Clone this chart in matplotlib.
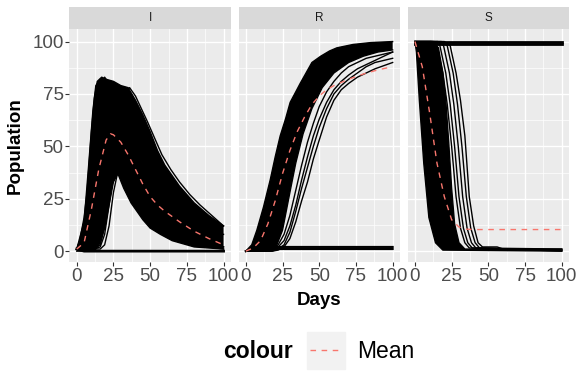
import numpy as np
import matplotlib
matplotlib.use("Agg")
from matplotlib import pyplot as plt
from matplotlib.lines import Line2D
from matplotlib.patches import Rectangle

plt.rcParams['font.family'] = ['Liberation Sans', 'DejaVu Sans']

# ---- data (Population vs Days) ----
panels = ["I", "R", "S"]
x_ticks = [0, 25, 50, 75, 100]
y_ticks = [0, 25, 50, 75, 100]

# I compartment
I_mean_days = [0, 5, 10, 15, 20, 23, 25, 30, 35, 40, 45, 50, 55, 60, 70, 80, 90, 100]
I_mean = [1, 4, 20, 39, 53, 56, 55.5, 52, 46, 39, 32, 26, 22, 19, 14, 9.5, 6, 3]
I_up_days = [0, 2, 5, 7, 10, 12, 14, 17, 20, 25, 30, 35, 40, 45, 50, 55, 60, 70, 80, 90, 100]
I_up = [1, 5, 16, 28, 57, 73, 81, 83, 82, 81, 79, 78, 72, 65, 57, 48, 41, 31, 23, 17, 12]
I_lo_days = [0, 10, 13, 16, 19, 22, 25, 28, 32, 37, 45, 50, 57, 65, 80, 90, 100]
I_lo = [0, 0, 1, 4, 11, 22, 33, 37, 30, 23, 15, 11, 8, 5, 2, 1.5, 1]
I_edge_days = [0, 5, 8, 11, 13, 16, 19, 22, 25, 29, 33, 36, 40, 44, 48, 53, 58, 64, 70, 77, 84, 92, 100]
I_edge_a = [1, 14, 40, 67, 79, 82, 80, 81, 79, 78, 76, 78, 74, 68, 62, 54, 46, 39, 33, 27, 22, 17, 12]
I_edge_b = [1, 10, 30, 58, 72, 80, 83, 80, 76, 71, 66, 60, 54, 48, 42, 36, 30, 24, 20, 15, 12, 9, 8]
I_late_days = [0, 12, 16, 19, 22, 25, 28, 31, 35, 40, 45, 50, 60, 70, 80, 90, 100]
I_late_a = [1, 1, 2, 8, 22, 36, 40, 36, 30, 25, 20, 16, 10, 7, 4, 3, 2]
I_late_b = [1, 1, 1, 3, 12, 28, 38, 42, 36, 28, 22, 17, 11, 7, 5, 3, 2]
I_late_c = [1, 1, 3, 12, 28, 42, 46, 41, 33, 26, 20, 15, 9, 6, 4, 2, 1]
I_fail_days = [0, 5, 100]
I_fail = [1, 0, 0]

# R compartment
R_mean_days = [0, 5, 10, 15, 20, 25, 30, 35, 40, 45, 50, 55, 60, 70, 80, 90, 100]
R_mean = [0, 1.5, 5, 13, 24, 37, 48, 57, 64, 70, 74, 77, 79, 82, 84.5, 86.5, 88]
R_up_days = [0, 4, 7.5, 12, 16.6, 20, 23.4, 27, 30.2, 34, 37, 41, 45, 51, 57, 62, 73, 85, 100]
R_up = [0, 3, 10, 21, 34, 45, 55, 63, 71, 76, 80, 85, 90, 93, 95.5, 97, 98.6, 99.5, 100]
R_lo_days = [0, 17, 20, 25, 30, 34, 39, 45, 52, 60, 70, 80, 90, 100]
R_lo = [0, 0, 1, 10, 28, 42, 56, 68, 78, 85, 90, 93, 95, 96]
R_out_days = [0, 18, 22, 26, 30, 34, 38, 42, 46, 50, 55, 60, 65, 70, 76, 82, 88, 94, 100]
R_out_a = [0, 0, 0.5, 2, 6, 14, 24, 33, 44, 53, 64, 72, 77, 80, 83, 85, 87, 88.5, 90]
R_out_b = [0, 0, 1, 3, 9, 19, 30, 40, 50, 59, 68, 75, 79, 82, 85, 88, 90, 91, 92]
R_out_c = [0, 0.5, 2, 5, 12, 22, 34, 45, 55, 63, 71, 77, 81, 84, 87, 89, 91, 93, 95]
R_out_d = [0, 1, 3, 8, 17, 29, 41, 52, 61, 69, 76, 81, 85, 88, 90, 92, 93, 94, 95]
R_fail_days = [0, 6, 100]
R_fail_1 = [0, 1, 1]
R_fail_2 = [0, 2, 2]

# S compartment
S_mean_days = [0, 5, 10, 15, 20, 25, 30, 35, 40, 100]
S_mean = [100, 88, 66, 42, 26, 15, 11.5, 10.5, 10.3, 10.3]
S_left_days = [0, 1, 3, 6, 9.5, 14, 19, 100]
S_left = [100, 95, 72, 42, 16, 4, 0.5, 0]
S_right_days = [0, 12, 16, 19, 21, 23, 25, 27, 30, 34, 100]
S_right = [100, 100, 97, 85, 72, 52, 30, 13, 4, 1, 0.5]
S_late_a_days = [0, 11, 15, 19, 22, 25, 28, 31, 34, 37, 100]
S_late_a = [100, 100, 98, 85, 70, 50, 26, 11, 4, 1.5, 0.5]
S_late_b_days = [0, 13, 17, 21, 24, 27, 30, 33, 36, 39, 100]
S_late_b = [100, 100, 98, 85, 70, 50, 26, 11, 4, 1.5, 0.5]
S_late_c_days = [0, 15.5, 19.5, 23.5, 26.5, 29.5, 32.5, 35.5, 38.5, 41.5, 100]
S_late_c = [100, 100, 98, 85, 70, 50, 26, 11, 4, 1.5, 1]
S_late_d_days = [0, 18, 22, 26, 29, 32, 35, 38, 41, 44, 100]
S_late_d = [100, 100, 98, 85, 70, 50, 26, 11, 4, 1.5, 0]
S_late_e_days = [0, 20, 24, 28, 31, 34, 37, 40, 43, 46, 56, 60, 100]
S_late_e = [100, 100, 98, 85, 72, 55, 26, 12, 4, 2, 2, 1, 1]
S_fail_days = [0, 100]
S_fail_1 = [100, 100]
S_fail_2 = [99, 99]

mean_col = "#F8766D"
lw = 1.0

fig = plt.figure(figsize=(5.76, 3.84), dpi=100)
W, H = 576.0, 384.0
lefts = [69.4, 238.5, 407.6]
pw, pb, ph = 161.5, 122.3, 232.4

axes = []
for k, name in enumerate(panels):
    ax = fig.add_axes([lefts[k] / W, pb / H, pw / W, ph / H])
    ax.set_facecolor("#EBEBEB")
    for s in ax.spines.values():
        s.set_visible(False)
    ax.set_xlim(-5, 105)
    ax.set_ylim(-5.04, 105.84)
    ax.set_xticks(x_ticks)
    ax.set_yticks(y_ticks)
    ax.set_xticks([12.5, 37.5, 62.5, 87.5], minor=True)
    ax.set_yticks([12.5, 37.5, 62.5, 87.5], minor=True)
    ax.grid(which="major", color="white", lw=1.0)
    ax.grid(which="minor", color="white", lw=0.5)
    ax.set_axisbelow(True)
    ax.tick_params(which="minor", length=0)
    ax.tick_params(which="major", length=2.7, width=0.8, color="#333333",
                   labelsize=13.5, labelcolor="#4D4D4D", pad=1.5)
    if k > 0:
        ax.tick_params(axis="y", left=False, labelleft=False)
    # strip
    st = fig.add_axes([lefts[k] / W, 354.7 / H, pw / W, 22 / H])
    st.set_facecolor("#D9D9D9")
    st.set_xticks([])
    st.set_yticks([])
    for s in st.spines.values():
        s.set_visible(False)
    st.text(0.5, 0.5, name, ha="center", va="center", fontsize=8.5, color="#1A1A1A",
            transform=st.transAxes)
    axes.append(ax)


def band(ax, xu, yu, xl, yl):
    ax.fill(list(xu) + list(xl)[::-1], list(yu) + list(yl)[::-1], color="black", lw=0)
    ax.plot(xu, yu, color="black", lw=lw)
    ax.plot(xl, yl, color="black", lw=lw)


ax = axes[0]
band(ax, I_up_days, I_up, I_lo_days, I_lo)
for ys in (I_edge_a, I_edge_b):
    ax.plot(I_edge_days, ys, color="black", lw=lw)
for ys in (I_late_a, I_late_b, I_late_c):
    ax.plot(I_late_days, ys, color="black", lw=lw)
ax.plot(I_fail_days, I_fail, color="black", lw=2.0)
ax.plot(I_mean_days, I_mean, color=mean_col, lw=lw, dashes=(4, 4))

ax = axes[1]
band(ax, R_up_days, R_up, R_lo_days, R_lo)
for ys in (R_out_a, R_out_b, R_out_c, R_out_d):
    ax.plot(R_out_days, ys, color="black", lw=lw)
ax.plot(R_fail_days, R_fail_1, color="black", lw=1.5)
ax.plot(R_fail_days, R_fail_2, color="black", lw=1.5)
ax.plot(R_mean_days, R_mean, color=mean_col, lw=lw, dashes=(4, 4))

ax = axes[2]
band(ax, S_left_days, S_left, S_right_days, S_right)
for xs, ys in ((S_late_a_days, S_late_a), (S_late_b_days, S_late_b),
               (S_late_c_days, S_late_c), (S_late_d_days, S_late_d),
               (S_late_e_days, S_late_e)):
    ax.plot(xs, ys, color="black", lw=lw)
ax.plot(S_fail_days, S_fail_1, color="black", lw=2.0)
ax.plot(S_fail_days, S_fail_2, color="black", lw=2.0)
ax.plot(S_mean_days, S_mean, color=mean_col, lw=lw, dashes=(4, 4))

# axis titles
fig.text(319 / W, 1 - 300.3 / H, "Days", ha="center", va="center",
         fontsize=13.5, fontweight="bold")
fig.text(15 / W, 1 - 145.7 / H, "Population", ha="center", va="center",
         rotation=90, fontsize=13.5, fontweight="bold")

# legend
fig.text(258 / W, 1 - 351.7 / H, "colour", ha="center", va="center",
         fontsize=16.5, fontweight="bold")
fig.patches.append(Rectangle((306.7 / W, 1 - 369 / H), 38.3 / W, 37.3 / H,
                             transform=fig.transFigure, color="#F2F2F2", zorder=0))
fig.lines.append(Line2D([310 / W, 341 / W], [1 - 350.3 / H, 1 - 350.3 / H],
                        transform=fig.transFigure, color=mean_col, lw=lw, dashes=(4, 4)))
fig.text(356.7 / W, 1 - 351.7 / H, "Mean", ha="left", va="center", fontsize=16.5)

fig.savefig("out.png", dpi=100)
